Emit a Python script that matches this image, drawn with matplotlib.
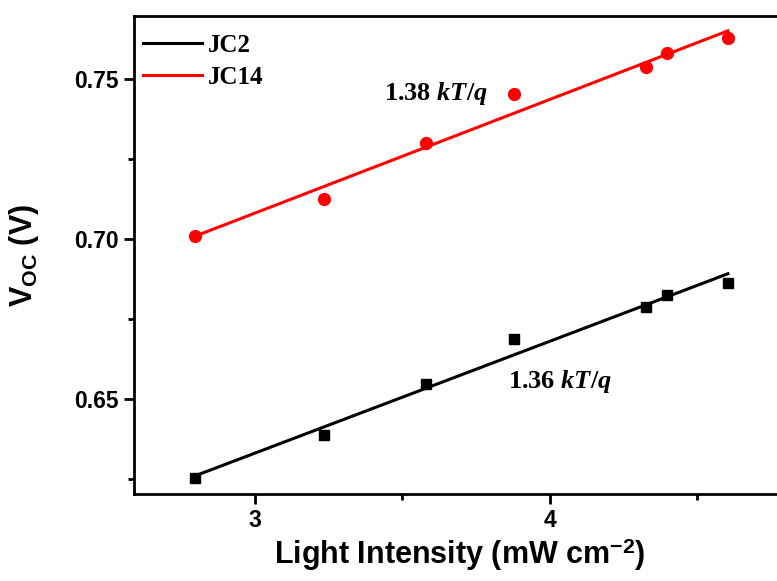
import numpy as np
import matplotlib
matplotlib.use('Agg')
import matplotlib.pyplot as plt
from matplotlib.ticker import MultipleLocator

# dados
intensidade = [2.797, 3.234, 3.580, 3.878, 4.325, 4.397, 4.603]
voc_jc2 = [0.6253, 0.6388, 0.6548, 0.6689, 0.6788, 0.6826, 0.6864]
voc_jc14 = [0.7010, 0.7126, 0.7301, 0.7454, 0.7538, 0.7582, 0.7629]
nomes = ['JC2', 'JC14']
rotulos_n = ['1.36', '1.38']

plt.rcParams['mathtext.fontset'] = 'custom'
plt.rcParams['mathtext.sf'] = 'Liberation Sans:bold'
plt.rcParams['mathtext.it'] = 'Liberation Serif:bold:italic'
plt.rcParams['mathtext.rm'] = 'Liberation Serif:bold'

fig = plt.figure(figsize=(7.77, 5.81), dpi=100)
ax = fig.add_axes([134/777, 87/581, (786-134)/777, (494-16)/581])

x = np.array(intensidade)
for y, cor, marc, ms, nome in [(voc_jc2, 'black', 's', 7.5, nomes[0]),
                               (voc_jc14, 'red', 'o', 8.5, nomes[1])]:
    a, b = np.polyfit(x, y, 1)
    ax.plot(x, y, ls='none', marker=marc, ms=ms, color=cor, mec=cor)
    ax.plot([x[0], x[-1]], [a*x[0]+b, a*x[-1]+b], color=cor, lw=2.2, label=nome)

ax.set_xlim(2.59, 4.80)
ax.set_ylim(0.6204, 0.7698)
ax.xaxis.set_major_locator(MultipleLocator(1))
ax.xaxis.set_minor_locator(MultipleLocator(0.5))
ax.yaxis.set_minor_locator(MultipleLocator(0.025))
ax.set_yticks([0.65, 0.70, 0.75])
ax.set_yticklabels(['0.65', '0.70', '0.75'])

for s in ax.spines.values():
    s.set_linewidth(2)
ax.tick_params(which='major', direction='out', length=7, width=2, pad=4,
               labelsize=16.5)
ax.tick_params(which='minor', direction='out', length=4, width=2)
for t in ax.get_xticklabels() + ax.get_yticklabels():
    t.set_fontfamily('Liberation Sans')
    t.set_fontweight('bold')

ax.set_xlabel(r'Light Intensity (mW cm$^{\mathsf{-2}}$)', fontsize=22,
              fontfamily=['Liberation Sans Narrow', 'Liberation Sans'],
              fontweight='bold', labelpad=3)
ax.set_ylabel(r'$\mathsf{V_{OC}}$ (V)', fontsize=22,
              fontfamily='Liberation Sans', fontweight='bold', labelpad=24)

leg = ax.legend(loc='upper left', bbox_to_anchor=(0, 1 - 9/478), frameon=False,
                handlelength=2.36, handletextpad=0.24, borderaxespad=0,
                borderpad=0.36, labelspacing=0.34,
                prop={'family': 'Liberation Serif', 'weight': 'bold', 'size': 18})

ax.text(3.615, 0.7457, rotulos_n[1] + r' $kT/q$', fontsize=19,
        fontfamily='Liberation Serif', fontweight='bold', ha='center', va='center')
ax.text(4.034, 0.6557, rotulos_n[0] + r' $kT/q$', fontsize=19,
        fontfamily='Liberation Serif', fontweight='bold', ha='center', va='center')

fig.savefig('out.png', dpi=100)
